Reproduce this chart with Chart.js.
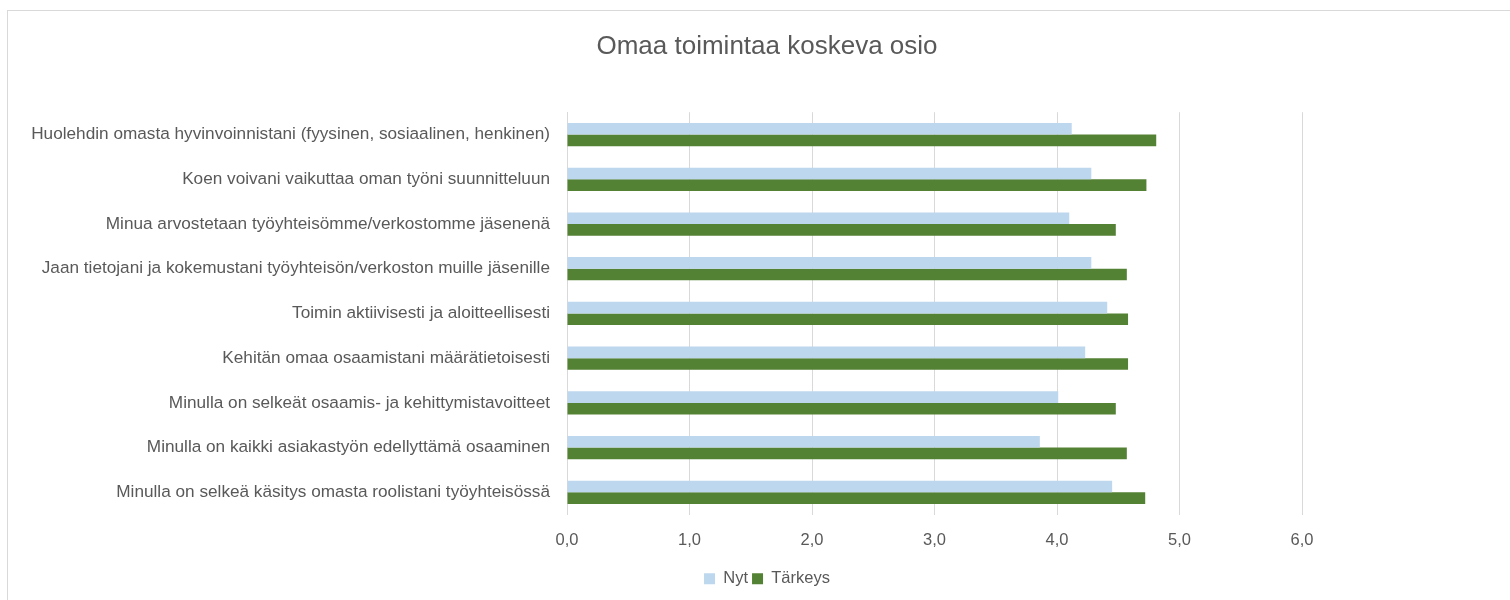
<!DOCTYPE html>
<html><head><meta charset="utf-8">
<script src="https://cdn.jsdelivr.net/npm/chart.js@4.4.1/dist/chart.umd.min.js"></script>
<style>
html,body{margin:0;padding:0;background:#fff;overflow:hidden;width:1510px;height:600px;}
#frame{position:absolute;left:7px;top:10px;width:1540px;height:620px;border:1px solid #d9d9d9;box-sizing:border-box;}
#wrap{position:absolute;left:0;top:0;width:1534px;height:600px;}
</style></head>
<body>
<div id="frame"></div>
<div id="wrap"><canvas id="c"></canvas></div>
<script>
const titleText = "Omaa toimintaa koskeva osio";
const categories = [
  "Huolehdin omasta hyvinvoinnistani (fyysinen, sosiaalinen, henkinen)",
  "Koen voivani vaikuttaa oman työni suunnitteluun",
  "Minua arvostetaan työyhteisömme/verkostomme jäsenenä",
  "Jaan tietojani ja kokemustani työyhteisön/verkoston muille jäsenille",
  "Toimin aktiivisesti ja aloitteellisesti",
  "Kehitän omaa osaamistani määrätietoisesti",
  "Minulla on selkeät osaamis- ja kehittymistavoitteet",
  "Minulla on kaikki asiakastyön edellyttämä osaaminen",
  "Minulla on selkeä käsitys omasta roolistani työyhteisössä"
];
const seriesNames = ["Nyt", "Tärkeys"];
const nyt =     [4.12, 4.28, 4.10, 4.28, 4.41, 4.23, 4.01, 3.86, 4.45];
const tarkeys = [4.81, 4.73, 4.48, 4.57, 4.58, 4.58, 4.48, 4.57, 4.72];
const xTicks = [0, 1, 2, 3, 4, 5, 6];

const fontFamily = "'Liberation Sans', sans-serif";
const textColor = "#595959";

new Chart(document.getElementById('c'), {
  type: 'bar',
  data: {
    labels: categories,
    datasets: [
      {label: seriesNames[0], data: nyt, backgroundColor: '#bdd7ee', borderWidth: 0},
      {label: seriesNames[1], data: tarkeys, backgroundColor: '#548235', borderWidth: 0}
    ]
  },
  options: {
    indexAxis: 'y',
    responsive: true,
    maintainAspectRatio: false,
    animation: false,
    layout: {padding: {left: 0, right: 0, top: 0, bottom: 3}},
    datasets: {bar: {barPercentage: 1.0, categoryPercentage: 0.52}},
    plugins: {
      title: {display: true, text: titleText, color: textColor,
        font: {family: fontFamily, size: 26, weight: 'normal'},
        padding: {top: 31, bottom: 50}},
      legend: {position: 'bottom', labels: {color: textColor, boxWidth: 11, boxHeight: 11,
        font: {family: fontFamily, size: 16.5}, padding: 4}},
      tooltip: {enabled: false}
    },
    scales: {
      x: {
        min: 0, max: 6,
        afterBuildTicks: (s) => { s.ticks = xTicks.map(v => ({value: v})); },
        ticks: {color: textColor, font: {family: fontFamily, size: 16.5},
          callback: (v) => Number(v).toFixed(1).replace('.', ','), padding: 16},
        grid: {color: '#d9d9d9', lineWidth: 1, drawTicks: false},
        border: {display: false}
      },
      y: {
        afterFit: (s) => { s.width = 567; },
        ticks: {color: textColor, font: {family: fontFamily, size: 17.2}, padding: 17},
        grid: {display: false, drawTicks: false},
        border: {display: true, color: '#d9d9d9'}
      },
      yRight: {
        type: 'linear', position: 'right', axis: 'y',
        afterFit: (s) => { s.width = 232; },
        ticks: {display: false},
        grid: {display: false, drawTicks: false},
        border: {display: false}
      }
    }
  }
});
</script>
</body></html>
